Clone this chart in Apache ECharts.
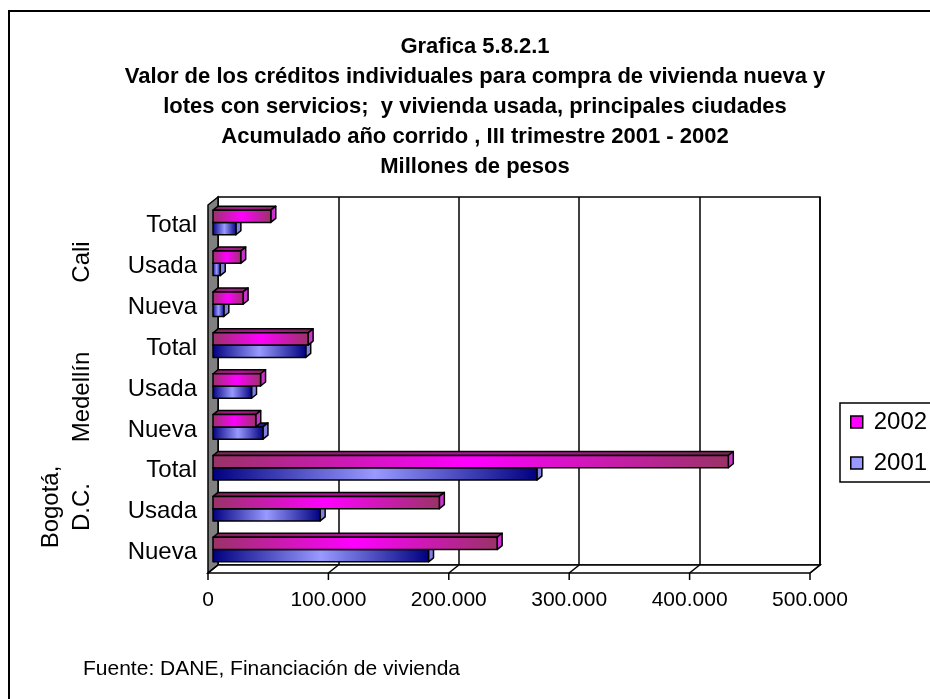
<!DOCTYPE html>
<html><head><meta charset="utf-8">
<script src="https://cdn.jsdelivr.net/npm/echarts@6/dist/echarts.min.js"></script>
<style>html,body{margin:0;padding:0;background:#fff}#c{width:930px;height:699px}</style>
</head><body><div id="c"></div>
<script>
// ---- data (bottom to top on the category axis) ----
const categories = ['Nueva', 'Usada', 'Total', 'Nueva', 'Usada', 'Total', 'Nueva', 'Usada', 'Total'];
const cityLabels = ['Bogotá,\nD.C.', 'Medellín', 'Cali'];
const values2002 = [236000, 188000, 428000, 35500, 39500, 79000, 25000, 23000, 48000];
const values2001 = [179000, 89000, 269000, 41500, 32000, 77000, 9000, 6000, 19000];
const seriesNames = ['2002', '2001'];
const xTicks = [0, 100000, 200000, 300000, 400000, 500000];
const titleLines = [
  'Grafica 5.8.2.1',
  'Valor de los créditos individuales para compra de vivienda nueva y',
  'lotes con servicios;  y vivienda usada, principales ciudades',
  'Acumulado año corrido , III trimestre 2001 - 2002',
  'Millones de pesos'
];
const sourceNote = 'Fuente: DANE, Financiación de vivienda';

const FONT = '"Liberation Sans", Arial, sans-serif';
const chart = echarts.init(document.getElementById('c'), null, {renderer: 'canvas'});
const LG = (stops) => new echarts.graphic.LinearGradient(0, 0, 1, 0, stops);

const styles = {
  '2002': {
    front: () => LG([{offset: 0, color: '#993366'}, {offset: 0.5, color: '#FF00FF'}, {offset: 1, color: '#993366'}]),
    top: () => LG([{offset: 0, color: '#7a2852'}, {offset: 0.5, color: '#b3139c'}, {offset: 1, color: '#7a2852'}]),
    end: '#CC33CC'
  },
  '2001': {
    front: () => LG([{offset: 0, color: '#000080'}, {offset: 0.5, color: '#9999FF'}, {offset: 1, color: '#000080'}]),
    top: () => LG([{offset: 0, color: '#000066'}, {offset: 0.5, color: '#7777cc'}, {offset: 1, color: '#000066'}]),
    end: '#8080E0'
  }
};

function barRenderer(name, upper) {
  return function (params, api) {
    const cat = api.value(1), val = api.value(0);
    const p0 = api.coord([0, cat]);
    const p1 = api.coord([val, cat]);
    const band = api.size([0, 1])[1];
    const h = band * 0.3;
    const dx = 5, dy = -4;
    const x0 = p0[0] + dx, x1 = p1[0] + dx;
    const mid = p0[1] - 3;
    const yT = upper ? mid - h : mid;
    const yB = yT + h;
    const st = styles[name];
    const line = {stroke: '#000', lineWidth: 1.5, lineJoin: 'round'};
    return {
      type: 'group',
      children: [
        {type: 'polygon', shape: {points: [[x0, yT], [x1, yT], [x1 + dx, yT + dy], [x0 + dx, yT + dy]]},
          style: Object.assign({fill: st.top()}, line)},
        {type: 'polygon', shape: {points: [[x1, yT], [x1 + dx, yT + dy], [x1 + dx, yB + dy], [x1, yB]]},
          style: Object.assign({fill: st.end}, line)},
        {type: 'rect', shape: {x: x0, y: yT, width: x1 - x0, height: h},
          style: Object.assign({fill: st.front()}, line)}
      ]
    };
  };
}

function wallsRenderer(params, api) {
  const cs = params.coordSys;
  const x0 = cs.x, y0 = cs.y, x1 = cs.x + cs.width, y1 = cs.y + cs.height;
  return {
    type: 'group',
    children: [
      {type: 'polygon', shape: {points: [[x0, y0], [x0 + 10, y0 - 8], [x0 + 10, y1 - 8], [x0, y1]]},
        style: {fill: '#808080', stroke: '#000', lineWidth: 1.5}},
      {type: 'polygon', shape: {points: [[x0, y1], [x0 + 10, y1 - 8], [x1 + 10, y1 - 8], [x1, y1]]},
        style: {fill: '#fff', stroke: '#000', lineWidth: 1.5}}
    ]
  };
}

function tickRenderer(params, api) {
  const cs = params.coordSys;
  const y1 = cs.y + cs.height;
  const px = api.coord([api.value(0), 0])[0];
  return {
    type: 'group',
    children: [
      {type: 'line', shape: {x1: px, y1: y1, x2: px + 10, y2: y1 - 8}, style: {stroke: '#000', lineWidth: 1.5}},
      {type: 'line', shape: {x1: px, y1: y1, x2: px, y2: y1 + 7}, style: {stroke: '#000', lineWidth: 1.5}}
    ]
  };
}

const fmt = v => v === 0 ? '0' : String(v).replace(/\B(?=(\d{3})+(?!\d))/g, '.');

const option = {
  animation: false,
  backgroundColor: '#fff',
  textStyle: {fontFamily: FONT},
  title: [
    {text: titleLines.join('\n'), left: 470, textAlign: 'center', top: 27,
      textStyle: {fontFamily: FONT, fontSize: 22, fontWeight: 'bold', lineHeight: 30, color: '#000'}},
    {text: sourceNote, left: 78, top: 654,
      textStyle: {fontFamily: FONT, fontSize: 21, fontWeight: 'normal', color: '#000'}}
  ],
  legend: {
    orient: 'vertical', left: 840, top: 403,
    padding: [7, 40, 7, 10], itemWidth: 12, itemHeight: 12, itemGap: 17,
    borderColor: '#000', borderWidth: 1.5, backgroundColor: '#fff',
    textStyle: {fontFamily: FONT, fontSize: 24, color: '#000', padding: [0, 0, 0, 6]},
    data: [
      {name: '2002', icon: 'rect', itemStyle: {color: '#FF00FF', borderColor: '#000', borderWidth: 1.5}},
      {name: '2001', icon: 'rect', itemStyle: {color: '#9999FF', borderColor: '#000', borderWidth: 1.5}}
    ]
  },
  grid: [
    {left: 218, top: 197, width: 602, height: 368, show: true, backgroundColor: '#fff', borderColor: '#000', borderWidth: 1.5, z: 0},
    {left: 208, top: 205, width: 602, height: 368, show: false}
  ],
  xAxis: [
    {gridIndex: 0, type: 'value', min: 0, max: 500000, interval: 100000,
      axisLine: {show: false}, axisTick: {show: false}, axisLabel: {show: false},
      splitLine: {show: true, lineStyle: {color: '#000', width: 1.5}}},
    {gridIndex: 1, type: 'value', min: 0, max: 500000, interval: 100000,
      axisLine: {show: false}, axisTick: {show: false}, splitLine: {show: false},
      axisLabel: {show: true, margin: 17, fontFamily: FONT, fontSize: 21, color: '#000', formatter: fmt}}
  ],
  yAxis: [
    {gridIndex: 0, type: 'category', data: categories, show: false},
    {gridIndex: 1, type: 'category', data: categories,
      axisLine: {show: false}, axisTick: {show: false}, splitLine: {show: false},
      axisLabel: {show: true, margin: 11, fontFamily: FONT, fontSize: 24, color: '#000', padding: [5, 0, 0, 0]}}
  ],
  graphic: [
    {type: 'rect', shape: {x: 9, y: 11, width: 940, height: 700}, style: {fill: 'none', stroke: '#000', lineWidth: 2}, z: 100, silent: true},
    {type: 'text', x: 82, y: 262, rotation: Math.PI / 2,
      style: {text: cityLabels[2], font: '24px ' + FONT, fill: '#000', align: 'center', verticalAlign: 'middle'}},
    {type: 'text', x: 82, y: 397, rotation: Math.PI / 2,
      style: {text: cityLabels[1], font: '24px ' + FONT, fill: '#000', align: 'center', verticalAlign: 'middle'}},
    {type: 'text', x: 67, y: 507, rotation: Math.PI / 2,
      style: {text: cityLabels[0], font: '24px ' + FONT, fill: '#000', align: 'center', verticalAlign: 'middle', lineHeight: 31}}
  ],
  series: [
    {type: 'custom', name: 'walls', xAxisIndex: 1, yAxisIndex: 1, z: 1, silent: true,
      data: [[0, 0]], renderItem: wallsRenderer},
    {type: 'custom', name: 'ticks', xAxisIndex: 1, yAxisIndex: 1, z: 2, silent: true,
      data: xTicks.map(v => [v, 0]), renderItem: tickRenderer},
    {type: 'custom', name: seriesNames[1], xAxisIndex: 1, yAxisIndex: 1, z: 3,
      itemStyle: {color: '#9999FF'},
      data: values2001.map((v, i) => [v, i]), encode: {x: 0, y: 1}, renderItem: barRenderer('2001', false)},
    {type: 'custom', name: seriesNames[0], xAxisIndex: 1, yAxisIndex: 1, z: 4,
      itemStyle: {color: '#FF00FF'},
      data: values2002.map((v, i) => [v, i]), encode: {x: 0, y: 1}, renderItem: barRenderer('2002', true)}
  ]
};
chart.setOption(option);
</script></body></html>
